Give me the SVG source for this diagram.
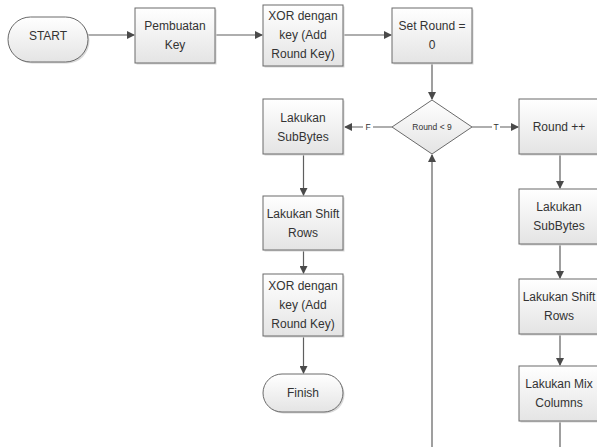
<svg xmlns="http://www.w3.org/2000/svg" width="597" height="447" viewBox="0 0 597 447">
<style>
.b{fill:url(#g);stroke:#6a6a6a;stroke-width:1}
.s{fill:#d8d8d8;stroke:none}
.t{font-family:"Liberation Sans",Arial,sans-serif;font-size:12px;fill:#333;text-anchor:middle}
.sm{font-family:"Liberation Sans",Arial,sans-serif;font-size:8.5px;fill:#333;text-anchor:middle}
.c{fill:none;stroke:#5f5f5f;stroke-width:1.2}
</style>
<defs>
<linearGradient id="g" x1="0" y1="0" x2="0" y2="1">
<stop offset="0" stop-color="#ffffff"/>
<stop offset="1" stop-color="#e4e4e4"/>
</linearGradient>
<marker id="a" markerWidth="8" markerHeight="8" refX="7" refY="4" orient="auto" markerUnits="userSpaceOnUse">
<path d="M0,0 L8,4 L0,8 z" fill="#4a4a4a"/>
</marker>
</defs>
<rect width="597" height="447" fill="#fff"/>
<g id="connectors">
<line class="c" x1="88" y1="35" x2="134" y2="35" marker-end="url(#a)"/>
<line class="c" x1="216" y1="35" x2="262" y2="35" marker-end="url(#a)"/>
<line class="c" x1="343" y1="35" x2="391" y2="35" marker-end="url(#a)"/>
<line class="c" x1="432" y1="63" x2="432" y2="99" marker-end="url(#a)"/>
<path class="c" d="M392,127 H373 M363,127 H345" marker-end="url(#a)"/>
<text class="sm" x="368" y="130">F</text>
<path class="c" d="M472,127 H492 M500,127 H518" marker-end="url(#a)"/>
<text class="sm" x="496" y="130">T</text>
<line class="c" x1="303.5" y1="154" x2="303.5" y2="195" marker-end="url(#a)"/>
<line class="c" x1="303.5" y1="250" x2="303.5" y2="273" marker-end="url(#a)"/>
<line class="c" x1="303.5" y1="336" x2="303.5" y2="373" marker-end="url(#a)"/>
<line class="c" x1="432" y1="447" x2="432" y2="155" marker-end="url(#a)"/>
<line class="c" x1="560" y1="154" x2="560" y2="188" marker-end="url(#a)"/>
<line class="c" x1="560" y1="244" x2="560" y2="278" marker-end="url(#a)"/>
<line class="c" x1="560" y1="334" x2="560" y2="365" marker-end="url(#a)"/>
<line class="c" x1="560" y1="421" x2="560" y2="447"/>
</g>
<g id="start">
<rect class="s" x="9.5" y="18.5" width="80" height="45" rx="22.5"/>
<rect class="b" x="8" y="17" width="80" height="45" rx="22.5"/>
<text class="t" x="48" y="40">START</text>
</g>
<g id="pembuatan">
<rect class="s" x="136.5" y="9.5" width="80" height="55"/>
<rect class="b" x="135" y="8" width="80" height="55"/>
<text class="t" x="175" y="30">Pembuatan</text>
<text class="t" x="175" y="49">Key</text>
</g>
<g id="xor1">
<rect class="s" x="264.5" y="6.5" width="80" height="61"/>
<rect class="b" x="263" y="5" width="80" height="61"/>
<text class="t" x="303" y="20">XOR dengan</text>
<text class="t" x="303" y="39">key (Add</text>
<text class="t" x="303" y="58">Round Key)</text>
</g>
<g id="setround">
<rect class="s" x="393.5" y="9.5" width="80" height="55"/>
<rect class="b" x="392" y="8" width="80" height="55"/>
<text class="t" x="432" y="30">Set Round =</text>
<text class="t" x="432" y="49">0</text>
</g>
<g id="decision">
<polygon class="b" points="432,100 472,127 432,154 392,127"/>
<text class="sm" x="432" y="130">Round &lt; 9</text>
</g>
<g id="subbytes1">
<rect class="s" x="264.5" y="100.5" width="80" height="55"/>
<rect class="b" x="263" y="99" width="80" height="55"/>
<text class="t" x="303" y="121.5">Lakukan</text>
<text class="t" x="303" y="140.5">SubBytes</text>
</g>
<g id="shiftrows1">
<rect class="s" x="264.5" y="197.5" width="80" height="54"/>
<rect class="b" x="263" y="196" width="80" height="54"/>
<text class="t" x="303" y="218">Lakukan Shift</text>
<text class="t" x="303" y="237">Rows</text>
</g>
<g id="xor2">
<rect class="s" x="264.5" y="275.5" width="80" height="62"/>
<rect class="b" x="263" y="274" width="80" height="62"/>
<text class="t" x="303" y="290">XOR dengan</text>
<text class="t" x="303" y="309">key (Add</text>
<text class="t" x="303" y="328">Round Key)</text>
</g>
<g id="finish">
<rect class="s" x="264.5" y="375.5" width="80" height="38" rx="19"/>
<rect class="b" x="263" y="374" width="80" height="38" rx="19"/>
<text class="t" x="303" y="397">Finish</text>
</g>
<g id="roundinc">
<rect class="s" x="520.5" y="100.5" width="80" height="55"/>
<rect class="b" x="519" y="99" width="80" height="55"/>
<text class="t" x="559" y="131">Round ++</text>
</g>
<g id="subbytes2">
<rect class="s" x="520.5" y="190.5" width="80" height="55"/>
<rect class="b" x="519" y="189" width="80" height="55"/>
<text class="t" x="559" y="211">Lakukan</text>
<text class="t" x="559" y="230">SubBytes</text>
</g>
<g id="shiftrows2">
<rect class="s" x="520.5" y="280.5" width="80" height="55"/>
<rect class="b" x="519" y="279" width="80" height="55"/>
<text class="t" x="559" y="301">Lakukan Shift</text>
<text class="t" x="559" y="320">Rows</text>
</g>
<g id="mixcolumns">
<rect class="s" x="520.5" y="367.5" width="80" height="55"/>
<rect class="b" x="519" y="366" width="80" height="55"/>
<text class="t" x="559" y="388">Lakukan Mix</text>
<text class="t" x="559" y="407">Columns</text>
</g>
</svg>
